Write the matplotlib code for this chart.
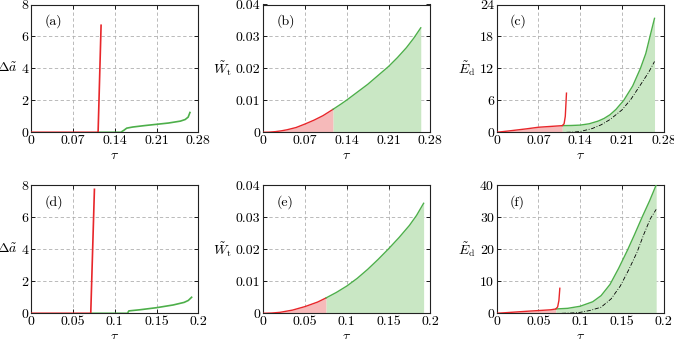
import numpy as np
import matplotlib
matplotlib.use("Agg")
import matplotlib.pyplot as plt

plt.rcParams['mathtext.fontset'] = 'cm'
plt.rcParams['font.family'] = 'serif'
plt.rcParams['font.serif'] = ['cmr10', 'DejaVu Serif']
plt.rcParams['axes.unicode_minus'] = False
plt.rcParams['axes.formatter.use_mathtext'] = True

RED = '#e8262a'
GREEN = '#4daf4a'
RED_FILL = '#f6baba'
GREEN_FILL = '#c9e7c4'
FS = 10

# ---------------- Top row data ----------------
# (a) crack extension
a_red_tau = [0.0, 0.112, 0.117]
a_red_val = [0.0, 0.0, 6.7]
a_green_tau = [0.112, 0.150, 0.155, 0.160, 0.170, 0.19, 0.21, 0.23, 0.25, 0.258, 0.263, 0.266]
a_green_val = [0.0, 0.0, 0.12, 0.26, 0.33, 0.42, 0.50, 0.58, 0.70, 0.80, 0.95, 1.24]

# (b) work
b_red_tau = [0.0, 0.01, 0.02, 0.03, 0.04, 0.055, 0.07, 0.085, 0.1, 0.117]
b_red_val = [0.0, 0.00005, 0.0002, 0.00045, 0.0008, 0.0015, 0.0026, 0.0038, 0.0052, 0.0072]
b_green_tau = [0.117, 0.13, 0.14, 0.155, 0.175, 0.19, 0.21, 0.225, 0.24, 0.252, 0.264]
b_green_val = [0.0072, 0.0088, 0.0101, 0.0122, 0.0150, 0.0174, 0.0206, 0.0234, 0.0265, 0.0294, 0.0327]

# (c) dissipated energy
c_red_tau = [0.0, 0.02, 0.05, 0.07, 0.09, 0.110, 0.113, 0.115, 0.117]
c_red_val = [0.0, 0.25, 0.65, 0.95, 1.1, 1.25, 1.6, 3.0, 7.35]
c_green_tau = [0.110, 0.125, 0.14, 0.155, 0.17, 0.18, 0.19, 0.2, 0.213, 0.228, 0.241, 0.25, 0.257, 0.2646]
c_green_val = [1.25, 1.28, 1.35, 1.6, 2.1, 2.6, 3.3, 4.3, 6.0, 8.7, 12.0, 14.8, 18.0, 21.4]
c_dd_tau = [0.117, 0.13, 0.14, 0.16, 0.175, 0.19, 0.21, 0.225, 0.241, 0.255, 0.2646]
c_dd_val = [0.0, 0.05, 0.15, 0.7, 1.4, 2.4, 4.2, 6.2, 8.9, 11.3, 13.3]

# ---------------- Bottom row data ----------------
d_red_tau = [0.0, 0.0712, 0.0756]
d_red_val = [0.0, 0.0, 7.73]
d_green_tau = [0.0712, 0.1152, 0.1168, 0.13, 0.15, 0.17, 0.183, 0.188, 0.192]
d_green_val = [0.0, 0.0, 0.15, 0.22, 0.35, 0.52, 0.68, 0.80, 1.0]

e_red_tau = [0.0, 0.01, 0.02, 0.035, 0.05, 0.065, 0.0752]
e_red_val = [0.0, 0.00008, 0.0003, 0.001, 0.0021, 0.0035, 0.0048]
e_green_tau = [0.0752, 0.0875, 0.1, 0.1125, 0.125, 0.1375, 0.15, 0.1625, 0.175, 0.1835, 0.192]
e_green_val = [0.0048, 0.0065, 0.0085, 0.0109, 0.0137, 0.0168, 0.0201, 0.0236, 0.0274, 0.0305, 0.0343]

f_red_tau = [0.0, 0.02, 0.04, 0.05, 0.065, 0.0708, 0.073, 0.0745, 0.0756]
f_red_val = [0.0, 0.35, 0.7, 0.85, 1.1, 1.35, 2.0, 4.0, 7.8]
f_green_tau = [0.0708, 0.085, 0.1, 0.115, 0.125, 0.1357, 0.146, 0.1563, 0.165, 0.1742, 0.183, 0.191]
f_green_val = [1.35, 1.55, 2.2, 3.6, 5.5, 9.0, 14.0, 19.5, 24.5, 30.0, 35.0, 40.0]
f_dd_tau = [0.078, 0.09, 0.1, 0.112, 0.125, 0.137, 0.148, 0.158, 0.168, 0.176, 0.184, 0.191]
f_dd_val = [0.0, 0.1, 0.3, 0.9, 1.9, 4.5, 8.5, 13.5, 19.0, 24.5, 29.5, 32.4]

top_xticks = [0, 0.07, 0.14, 0.21, 0.28]
top_xlabels = ['0', '0.07', '0.14', '0.21', '0.28']
bot_xticks = [0, 0.05, 0.1, 0.15, 0.2]
bot_xlabels = ['0', '0.05', '0.1', '0.15', '0.2']

W, H = 674, 339
fig = plt.figure(figsize=(W / 100, H / 100), dpi=100)

lefts = [31.3, 263.3, 496.7]
width = 167.0
rows = [(4.5, 132.3), (185.0, 313.3)]


def make_ax(col, row):
    l = lefts[col]
    t, b = rows[row]
    ax = fig.add_axes([l / W, 1 - b / H, width / W, (b - t) / H])
    ax.tick_params(direction='in', top=True, right=True, length=3, width=0.6,
                   labelsize=FS, pad=2, colors='black')
    for s in ax.spines.values():
        s.set_linewidth(0.8)
        s.set_color('#222222')
    ax.grid(True, color='#b0b0b0', linestyle=(0, (4, 3)), linewidth=0.6)
    ax.set_axisbelow(True)
    return ax


def finish(ax, xticks, xlabels, yticks, ylabels, ylabel, tag):
    ax.set_xlim(xticks[0], xticks[-1])
    ax.set_ylim(yticks[0], yticks[-1])
    ax.set_xticks(xticks)
    ax.set_xticklabels(xlabels)
    ax.set_yticks(yticks)
    ax.set_yticklabels(ylabels)
    ax.set_xlabel(r'$\tau$', fontsize=FS, labelpad=2)
    ax.set_ylabel(ylabel, fontsize=FS, rotation=0, labelpad=3, va='center', ha='right')
    ax.text(0.08, 0.87, tag, transform=ax.transAxes, fontsize=FS, va='center', ha='left')


# (a)
ax = make_ax(0, 0)
ax.plot(a_green_tau, a_green_val, color=GREEN, lw=1.2, zorder=3)
ax.plot(a_red_tau, a_red_val, color=RED, lw=1.2, zorder=4)
finish(ax, top_xticks, top_xlabels, [0, 2, 4, 6, 8], ['0', '2', '4', '6', '8'],
       r'$\mathit{\Delta}\tilde{a}$', '(a)')

# (b)
ax = make_ax(1, 0)
ax.fill_between(b_red_tau, 0, b_red_val, color=RED_FILL, lw=0, zorder=2)
ax.fill_between(b_green_tau, 0, b_green_val, color=GREEN_FILL, lw=0, zorder=2)
ax.plot(b_red_tau, b_red_val, color=RED, lw=1.0, zorder=4)
ax.plot(b_green_tau, b_green_val, color=GREEN, lw=1.0, zorder=4)
finish(ax, top_xticks, top_xlabels, [0, 0.01, 0.02, 0.03, 0.04],
       ['0', '0.01', '0.02', '0.03', '0.04'], r'$\tilde{W}_\mathrm{t}$', '(b)')

# (c)
ax = make_ax(2, 0)
ax.fill_between(c_red_tau[:6], 0, c_red_val[:6], color=RED_FILL, lw=0, zorder=2)
ax.fill_between(c_green_tau, 0, c_green_val, color=GREEN_FILL, lw=0, zorder=2)
ax.plot(c_green_tau, c_green_val, color=GREEN, lw=1.0, zorder=3)
ax.plot(c_dd_tau, c_dd_val, color='black', lw=0.6, linestyle=(0, (5, 2, 1, 2)), zorder=3)
ax.plot(c_red_tau, c_red_val, color=RED, lw=1.0, zorder=4)
finish(ax, top_xticks, top_xlabels, [0, 6, 12, 18, 24], ['0', '6', '12', '18', '24'],
       r'$\tilde{E}_\mathrm{d}$', '(c)')

# (d)
ax = make_ax(0, 1)
ax.plot(d_green_tau, d_green_val, color=GREEN, lw=1.2, zorder=3)
ax.plot(d_red_tau, d_red_val, color=RED, lw=1.2, zorder=4)
finish(ax, bot_xticks, bot_xlabels, [0, 2, 4, 6, 8], ['0', '2', '4', '6', '8'],
       r'$\mathit{\Delta}\tilde{a}$', '(d)')

# (e)
ax = make_ax(1, 1)
ax.fill_between(e_red_tau, 0, e_red_val, color=RED_FILL, lw=0, zorder=2)
ax.fill_between(e_green_tau, 0, e_green_val, color=GREEN_FILL, lw=0, zorder=2)
ax.plot(e_red_tau, e_red_val, color=RED, lw=1.0, zorder=4)
ax.plot(e_green_tau, e_green_val, color=GREEN, lw=1.0, zorder=4)
finish(ax, bot_xticks, bot_xlabels, [0, 0.01, 0.02, 0.03, 0.04],
       ['0', '0.01', '0.02', '0.03', '0.04'], r'$\tilde{W}_\mathrm{t}$', '(e)')

# (f)
ax = make_ax(2, 1)
ax.fill_between(f_red_tau[:6], 0, f_red_val[:6], color=RED_FILL, lw=0, zorder=2)
ax.fill_between(f_green_tau, 0, f_green_val, color=GREEN_FILL, lw=0, zorder=2)
ax.plot(f_green_tau, f_green_val, color=GREEN, lw=1.0, zorder=3)
ax.plot(f_dd_tau, f_dd_val, color='black', lw=0.6, linestyle=(0, (5, 2, 1, 2)), zorder=3)
ax.plot(f_red_tau, f_red_val, color=RED, lw=1.0, zorder=4)
finish(ax, bot_xticks, bot_xlabels, [0, 10, 20, 30, 40], ['0', '10', '20', '30', '40'],
       r'$\tilde{E}_\mathrm{d}$', '(f)')

fig.savefig('out.png', dpi=100)
